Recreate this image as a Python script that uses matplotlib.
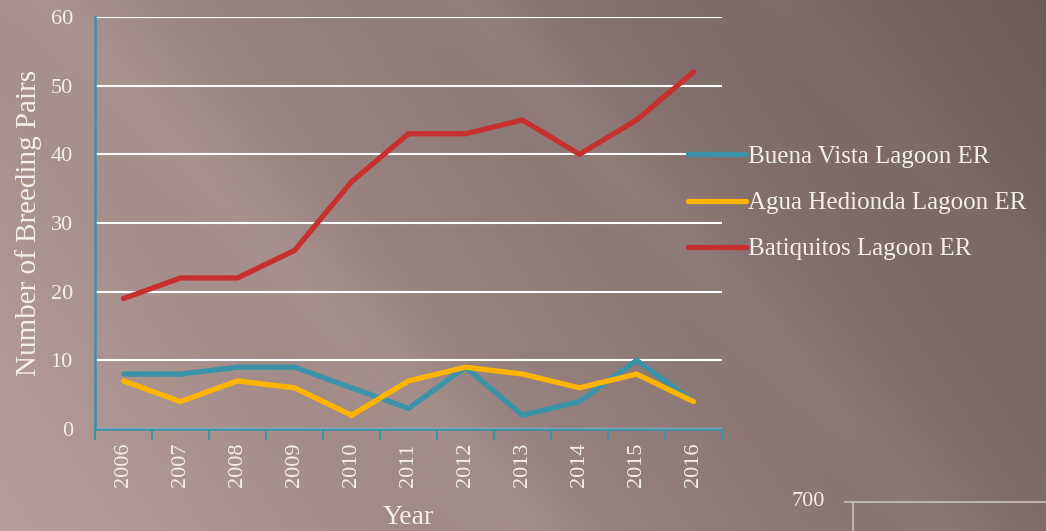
import numpy as np
import matplotlib
matplotlib.use("Agg")
import matplotlib.pyplot as plt

years = ["2006", "2007", "2008", "2009", "2010", "2011",
         "2012", "2013", "2014", "2015", "2016"]
buena_vista = [8, 8, 9, 9, 6, 3, 9, 2, 4, 10, 4]
agua_hedionda = [7, 4, 7, 6, 2, 7, 9, 8, 6, 8, 4]
batiquitos = [19, 22, 22, 26, 36, 43, 43, 45, 40, 45, 52]
series_names = ["Buena Vista Lagoon ER", "Agua Hedionda Lagoon ER", "Batiquitos Lagoon ER"]

TEAL = "#3a93a8"
COLORS = ["#3a93a8", "#ffb400", "#c8302f"]
TXT = "#f4eeec"

plt.rcParams["font.family"] = ["Liberation Serif", "DejaVu Serif"]

fig = plt.figure(figsize=(10.46, 5.31), dpi=100)

# background: brownish gradient with soft diagonal streaks
bg = fig.add_axes([0, 0, 1, 1])
h, w = 531, 1046
yy, xx = np.mgrid[0:h, 0:w]
u = xx / w
v = yy / h
t = 0.75 * u + 0.25 * (1 - v)        # darker to the right
d = (u * w - v * h * 0.9) / w         # diagonal coordinate
streak = 0.05 * np.exp(-((d - 0.05) / 0.06) ** 2) + 0.04 * np.exp(-((d - 0.45) / 0.05) ** 2) \
    + 0.03 * np.exp(-((d - 0.75) / 0.04) ** 2)
light = np.array([184, 158, 154]) / 255
dark = np.array([108, 92, 90]) / 255
img = light[None, None, :] * (1 - t[..., None]) + dark[None, None, :] * t[..., None]
img = np.clip(img + streak[..., None] * 0.6, 0, 1)
bg.imshow(img, aspect="auto", extent=[0, 1, 0, 1], origin="upper")
bg.set_xlim(0, 1)
bg.set_ylim(0, 1)
bg.axis("off")

ax = fig.add_axes([95 / 1046, 102 / 531, 627 / 1046, 412 / 531])
ax.patch.set_alpha(0)

x = np.arange(len(years))
for vals, name, c in zip([buena_vista, agua_hedionda, batiquitos], series_names, COLORS):
    ax.plot(x, vals, color=c, lw=3.8, solid_capstyle="round", solid_joinstyle="miter", label=name, zorder=3)

ax.set_xlim(-0.5, len(years) - 0.5)
ax.set_ylim(0, 60)
ax.set_yticks(range(0, 61, 10))
ax.yaxis.grid(True, color="white", lw=1.5, zorder=1)
ax.set_axisbelow(True)

ax.set_xticks(x)
ax.set_xticklabels(years, rotation=90, color=TXT, fontsize=16)
ax.set_xticks(np.arange(-0.5, len(years)), minor=True)
ax.tick_params(axis="x", which="major", length=0, pad=10)
ax.tick_params(axis="x", which="minor", length=8, width=1.5, color=TEAL, direction="out")
ax.tick_params(axis="y", length=0, pad=16, labelcolor=TXT, labelsize=16)

for s in ["top", "right"]:
    ax.spines[s].set_visible(False)
for s in ["left", "bottom"]:
    ax.spines[s].set_color(TEAL)
    ax.spines[s].set_linewidth(1.8)

ax.set_ylabel("Number of Breeding Pairs", color=TXT, fontsize=21, labelpad=6)
ax.set_xlabel("Year", color=TXT, fontsize=20, labelpad=13)

leg = fig.legend(loc="center left", bbox_to_anchor=(688 / 1046, 328 / 531), frameon=False,
                 fontsize=18, labelcolor=TXT, handlelength=2.3, handletextpad=0.1,
                 labelspacing=0.95, borderpad=0, borderaxespad=0)

# corner of the neighbouring chart in the bottom right
fig.text(808 / 1046, 29 / 531, "700", color=TXT, fontsize=16, ha="center", va="center")
bg.plot([845 / 1046, 1], [29 / 531, 29 / 531], color="#c8c0bd", lw=1.2)
bg.plot([853 / 1046, 853 / 1046], [29 / 531, 0], color="#c8c0bd", lw=1.2)

fig.savefig("out.png", dpi=100)
